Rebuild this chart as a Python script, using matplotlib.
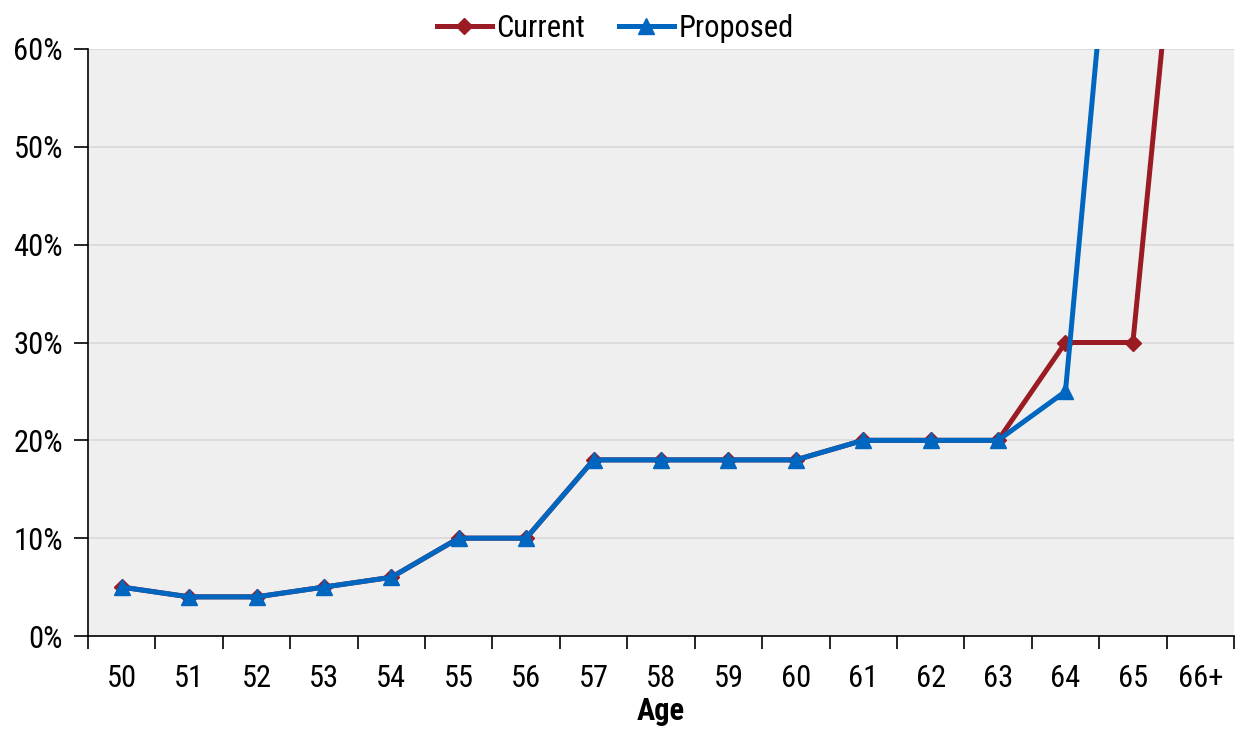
import matplotlib.pyplot as plt
import numpy as np
from matplotlib import font_manager
from matplotlib.ticker import FixedLocator, NullFormatter

# Données
ages = ["50", "51", "52", "53", "54", "55", "56", "57", "58", "59",
        "60", "61", "62", "63", "64", "65", "66+"]
current = [5, 4, 4, 5, 6, 10, 10, 18, 18, 18, 18, 20, 20, 20, 30, 30, 100]
proposed = [5, 4, 4, 5, 6, 10, 10, 18, 18, 18, 18, 20, 20, 20, 25, 100, 100]
y_ticks = [0, 10, 20, 30, 40, 50, 60]

# Police étroite (style Arial Narrow) si disponible
names = {f.name for f in font_manager.fontManager.ttflist}
fam = "DejaVu Sans"
for cand in ["Liberation Sans Narrow", "Arial Narrow", "Roboto Condensed",
             "Archivo Narrow", "PT Sans Narrow", "Pragati Narrow"]:
    if cand in names:
        fam = cand
        break
plt.rcParams['font.family'] = [fam, 'DejaVu Sans']
if fam == "DejaVu Sans":
    plt.rcParams['font.stretch'] = 'condensed'

fig = plt.figure(figsize=(12.41, 7.31), dpi=100)
ax = fig.add_axes([88 / 1241, 95 / 731, (1234 - 88) / 1241, (636 - 49) / 731])
ax.set_facecolor('#efefef')

x = np.arange(len(ages))
ax.plot(x, current, color='#9b1b24', lw=3.6, marker='D', ms=8.5, label='Current', zorder=3)
ax.plot(x, proposed, color='#0066c0', lw=3.6, marker='^', ms=11, label='Proposed', zorder=4)

ax.set_xlim(-0.5, len(ages) - 0.5)
ax.set_ylim(0, 60)

ax.set_yticks(y_ticks)
ax.set_yticklabels([f"{v}%" for v in y_ticks], fontsize=22)
ax.yaxis.grid(True, color='#d9d9d9', lw=1.2)
ax.set_axisbelow(True)

ax.xaxis.set_major_locator(FixedLocator(np.arange(-0.5, len(ages))))
ax.xaxis.set_major_formatter(NullFormatter())
ax.xaxis.set_minor_locator(FixedLocator(x))
ax.set_xticklabels(ages, minor=True, fontsize=22)
ax.tick_params(axis='x', which='minor', length=0, pad=20)
ax.tick_params(axis='x', which='major', length=9, width=1.2, direction='out')
ax.tick_params(axis='y', length=10, width=1.2, pad=8)

for s in ['top', 'right']:
    ax.spines[s].set_visible(False)
for s in ['left', 'bottom']:
    ax.spines[s].set_linewidth(1.2)

ax.set_xlabel('Age', fontsize=22, fontweight='bold', labelpad=2)

ax.legend(loc='lower center', bbox_to_anchor=(0.46, 0.99), ncol=2, frameon=False,
          fontsize=22, handlelength=1.8, handletextpad=0.15, columnspacing=1.1,
          borderaxespad=0)

plt.savefig('out.png', dpi=100)
